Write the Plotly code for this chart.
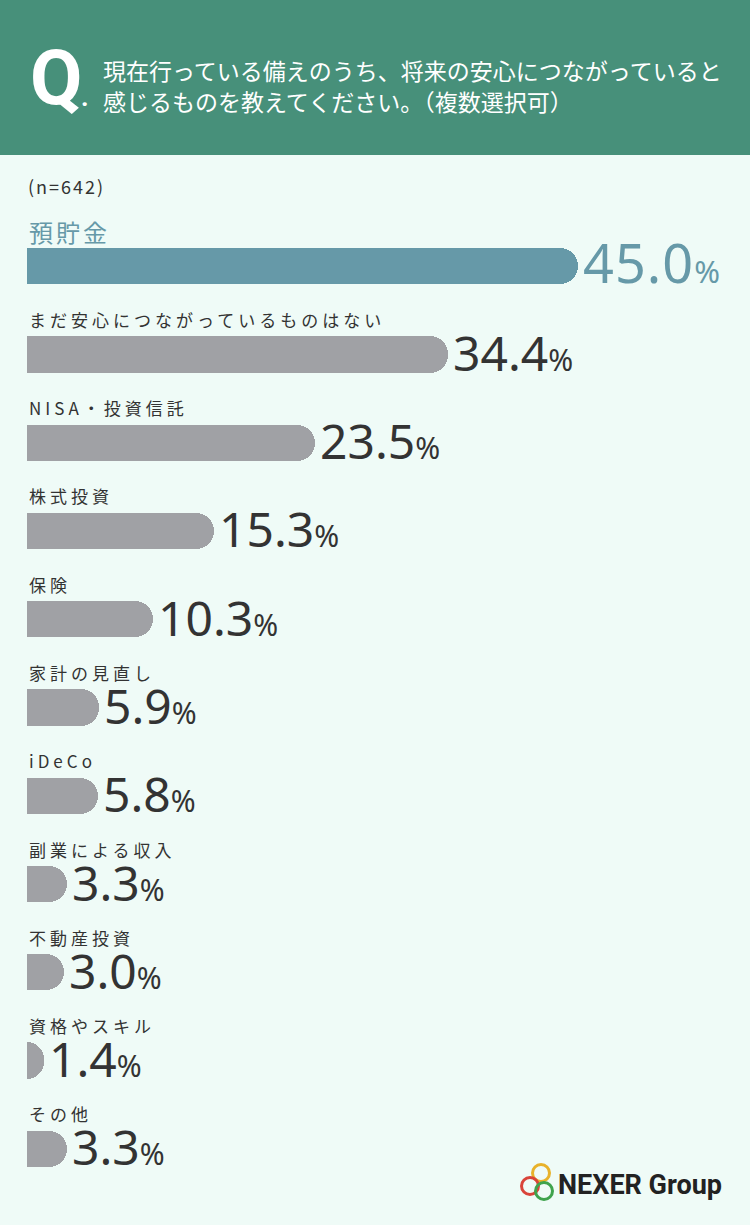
import plotly.graph_objects as go

# ---- data ----
categories = ["預貯金", "まだ安心につながっているものはない", "NISA・投資信託", "株式投資", "保険",
              "家計の見直し", "iDeCo", "副業による収入", "不動産投資", "資格やスキル", "その他"]
values = [45.0, 34.4, 23.5, 15.3, 10.3, 5.9, 5.8, 3.3, 3.0, 1.4, 3.3]
sample_note = "(n=642)"
question_line1 = "現在行っている備えのうち、将来の安心につながっていると"
question_line2 = "感じるものを教えてください。（複数選択可）"

# ---- styling ----
W, H = 750, 1225
BG = "#EFFBF7"
HEADER = "#47907A"
TEAL = "#6699A8"
GRAY = "#A0A1A5"
DARK = "#333333"
JP = "Noto Sans CJK JP"

L, R, T, B = 27, 0, 222, 32
pw, ph = W - L - R, H - T - B
px_per_pct = 12.25
xmax = pw / px_per_pct
n = len(categories)


def pxx(x):
    return (x - L) / pw


def pxy(y):
    return (H - B - y) / ph


colors = [TEAL] + [GRAY] * (n - 1)
ypos = list(range(n))

fig = go.Figure()
fig.add_trace(go.Bar(
    x=values, y=ypos, orientation="h", width=0.41,
    marker=dict(color=colors, cornerradius=18, line=dict(width=0)),
    hoverinfo="skip", showlegend=False,
))

annotations = []
for i, (c, v) in enumerate(zip(categories, values)):
    first = i == 0
    annotations.append(dict(
        x=0, y=i, xref="x", yref="y", xanchor="left", yanchor="middle",
        yshift=35, xshift=0, showarrow=False,
        text=(f"<span style='letter-spacing:3px'>{c}</span>" if first
              else f"<span style='letter-spacing:4px'>{c}</span>"),
        font=dict(family=JP, size=24 if first else 17, color=TEAL if first else DARK),
    ))
    if first:
        txt = f"<span style='letter-spacing:1px'>{v:.1f}</span><span style='font-size:31px'>%</span>"
        fnt = dict(family="Noto Sans", size=54, weight=400, color=TEAL)
        ysh = 4
    else:
        txt = f"{v:.1f}<span style='font-size:30px'>%</span>"
        fnt = dict(family="Noto Sans", size=48, weight=400, color=DARK)
        ysh = 2
    annotations.append(dict(
        x=v, y=i, xref="x", yref="y", xanchor="left", yanchor="middle",
        xshift=3, yshift=ysh, showarrow=False, text=txt, font=fnt,
    ))

# header texts
annotations.append(dict(x=pxx(28), y=pxy(78), xref="paper", yref="paper", xanchor="left",
                        yanchor="middle", showarrow=False, text="<b>Q</b>",
                        font=dict(family="Roboto", size=76, color="white")))
annotations.append(dict(x=pxx(79), y=pxy(97), xref="paper", yref="paper", xanchor="left",
                        yanchor="middle", showarrow=False, text="<b>.</b>",
                        font=dict(family="Roboto", size=26, color="white")))
annotations.append(dict(x=pxx(101), y=pxy(70), xref="paper", yref="paper", xanchor="left",
                        yanchor="middle", showarrow=False, text=question_line1,
                        font=dict(family=JP, size=23, color="white")))
annotations.append(dict(x=pxx(101), y=pxy(101), xref="paper", yref="paper", xanchor="left",
                        yanchor="middle", showarrow=False, text=question_line2,
                        font=dict(family=JP, size=23, color="white")))
annotations.append(dict(x=pxx(26), y=pxy(186), xref="paper", yref="paper", xanchor="left",
                        yanchor="middle", showarrow=False,
                        text=f"<span style='letter-spacing:2px'>{sample_note}</span>",
                        font=dict(family=JP, size=18, color=DARK)))
# logo text
annotations.append(dict(x=pxx(556), y=pxy(1185), xref="paper", yref="paper", xanchor="left",
                        yanchor="middle", showarrow=False, text="<b>NEXER Group</b>",
                        font=dict(family="Roboto", size=27, color="#222222")))

shapes = [
    dict(type="rect", xref="paper", yref="paper", x0=pxx(0), x1=pxx(W), y0=pxy(0), y1=pxy(155),
         fillcolor=HEADER, line=dict(width=0), layer="below"),
]
# logo rings
for cx, cy, col in [(541, 1173, "#E8B22A"), (530, 1186, "#D9443A"), (544, 1191, "#3FA34D")]:
    r = 8.5
    shapes.append(dict(type="circle", xref="paper", yref="paper",
                       x0=pxx(cx - r), x1=pxx(cx + r), y0=pxy(cy + r), y1=pxy(cy - r),
                       line=dict(color=col, width=3), fillcolor="rgba(0,0,0,0)"))

fig.update_layout(
    width=W, height=H, autosize=False,
    margin=dict(l=L, r=R, t=T, b=B, pad=0),
    paper_bgcolor=BG, plot_bgcolor=BG,
    xaxis=dict(range=[0, xmax], visible=False, fixedrange=True),
    yaxis=dict(range=[n - 0.5, -0.5], visible=False, fixedrange=True),
    annotations=annotations, shapes=shapes,
    bargap=0,
)

fig.write_html("out.html", config={"displayModeBar": False},
               post_script="document.body.style.margin='0';")
